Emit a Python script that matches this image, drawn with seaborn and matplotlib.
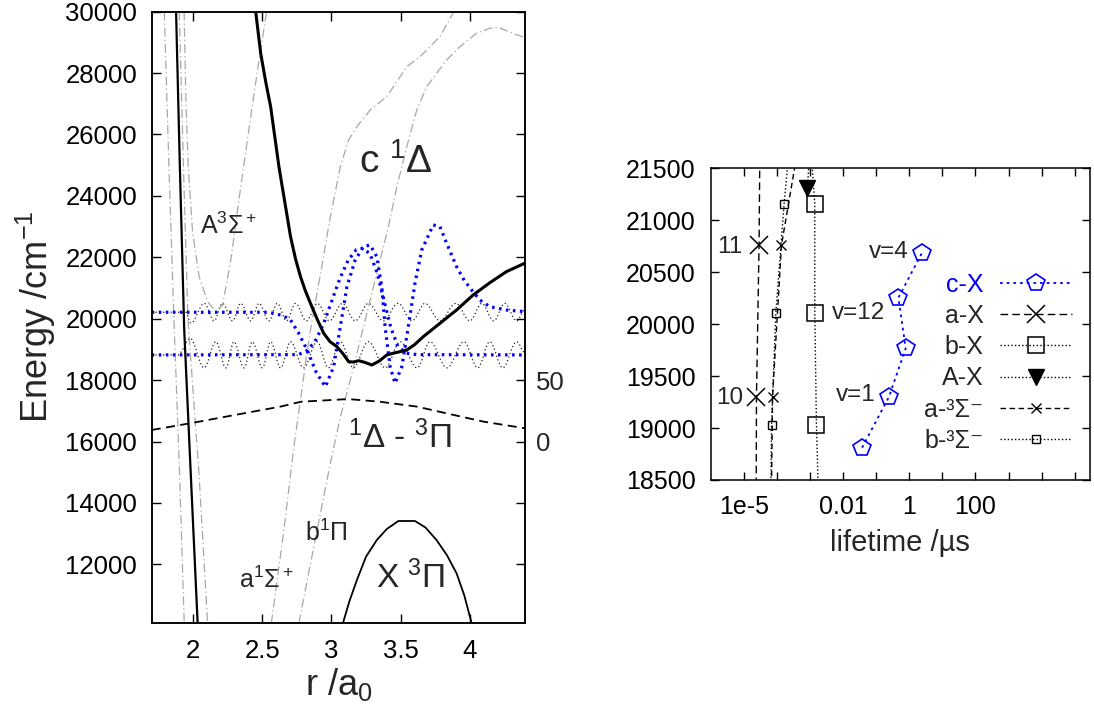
import numpy as np
import pandas as pd
import matplotlib
matplotlib.use("Agg")
import matplotlib.pyplot as plt
import seaborn as sns
from matplotlib.path import Path
from matplotlib.patches import PathPatch
from matplotlib.lines import Line2D

# ---------------- LEFT PANEL DATA (r in a0, energy in cm-1) ----------------
r_c1D = [2.452, 2.488, 2.525, 2.560, 2.620, 2.680, 2.704, 2.740, 2.776, 2.812, 2.848, 2.90,
         2.944, 2.99, 3.040, 3.085, 3.124, 3.160, 3.196, 3.24, 3.292, 3.345, 3.400, 3.45,
         3.497, 3.545, 3.60, 3.664, 3.785, 3.905, 4.025, 4.145, 4.265, 4.40]
E_c1D = [30000, 28645, 27700, 26906, 24952, 23323, 22672, 21950, 21369, 20900, 20502, 19950,
         19525, 19250, 19089, 18850, 18600, 18590, 18633, 18580, 18493, 18620, 18819, 18880,
         18927, 18982, 19150, 19415, 19851, 20284, 20773, 21170, 21532, 21810]

r_wall = [1.876, 1.904, 1.935, 1.983, 2.032]
E_wall = [30000, 24845, 19633, 14877, 10080]

r_X3P = [3.084, 3.13, 3.184, 3.25, 3.328, 3.40, 3.484, 3.604, 3.68, 3.76, 3.835, 3.905, 3.96, 4.013]
E_X3P = [10100, 10800, 11490, 12250, 12793, 13150, 13412, 13412, 13200, 12793, 12300, 11708, 11000, 10100]

r_coup = [1.70, 1.98, 2.30, 2.63, 2.78, 3.09, 3.14, 3.35, 3.62, 3.85, 4.10, 4.40]
v_coup = [9.4, 14.9, 21.6, 28.4, 32.4, 34.4, 34.4, 32.4, 28.4, 22.5, 16.2, 10.8]

r_G1 = [1.791, 1.825, 1.862, 1.902, 1.935]
E_G1 = [30000, 24845, 19800, 14877, 10080]
r_G2 = [1.899, 1.929, 1.962, 2.043, 2.104]
E_G2 = [30000, 25000, 19958, 14877, 10080]
r_A3S = [1.934, 1.947, 1.964, 1.996, 2.043, 2.104, 2.164, 2.212, 2.272, 2.344, 2.416, 2.476, 2.531]
E_A3S = [30000, 27124, 24952, 22782, 21369, 20555, 20229, 20447, 21913, 24300, 26580, 28427, 30000]
r_a1S = [2.565, 2.656, 2.728, 2.776, 2.812, 2.848, 2.93, 2.992, 3.064, 3.124, 3.184, 3.28, 3.40,
         3.545, 3.641, 3.785, 3.885]
E_a1S = [10080, 13119, 15832, 17353, 18548, 19633, 21700, 23323, 24952, 25820, 26255, 26797,
         27232, 28209, 28534, 29186, 30000]
r_b1P = [2.764, 2.896, 2.992, 3.064, 3.136, 3.208, 3.30, 3.412, 3.473, 3.545, 3.617, 3.689,
         3.833, 3.929, 4.049, 4.145, 4.205, 4.313, 4.40]
E_b1P = [10080, 13119, 15290, 16800, 18000, 19300, 20970, 23000, 24300, 25603, 26797, 27557,
         28427, 28860, 29296, 29459, 29492, 29296, 29150]

# c-state wavefunctions (blue)
r_wf_hi = [1.70, 2.55, 2.65, 2.704, 2.76, 2.824, 2.89, 2.956, 3.016, 3.064, 3.112, 3.172, 3.232,
           3.28, 3.328, 3.364, 3.388, 3.424, 3.46, 3.509, 3.556, 3.604, 3.653, 3.736, 3.785,
           3.833, 3.905, 3.96, 4.02, 4.073, 4.145, 4.265, 4.40]
E_wf_hi = [20210, 20210, 20100, 19959, 19550, 18982, 18250, 17786, 18438, 19741, 21044, 21913,
           22347, 22401, 22021, 21044, 19741, 18438, 17897, 18438, 19741, 21153, 22239, 23053,
           23000, 22457, 21695, 21250, 20900, 20610, 20392, 20284, 20230]
r_wf_lo = [1.70, 2.76, 2.82, 2.88, 2.94, 3.00, 3.06, 3.12, 3.18, 3.23, 3.28, 3.33, 3.38, 3.43,
           3.48, 3.54, 3.62, 4.40]
E_wf_lo = [18820, 18830, 18950, 19250, 19800, 20550, 21300, 21900, 22250, 22300, 22100, 21500,
           20600, 19700, 19100, 18880, 18830, 18820]

# X-state wavefunctions (black dotted): baseline + extrema
r_xwf_hi = [1.70, 1.947, 1.983, 2.080, 2.151, 2.212, 2.284, 2.344, 2.416, 2.476, 2.548, 2.608,
            2.675, 2.740, 2.819, 2.898, 2.985, 3.079, 3.173, 3.267, 3.375, 3.482, 3.583, 3.677,
            3.785, 3.900, 4.001, 4.087, 4.174, 4.253, 4.339, 4.40]
E_xwf_hi = [20210, 20210, 19860, 20500, 19930, 20500, 19930, 20500, 19930, 20500, 19930, 20500,
            19930, 20500, 19930, 20500, 19930, 20500, 19930, 20500, 19930, 20500, 19930, 20500,
            19930, 20500, 19930, 20500, 19930, 20500, 19930, 20300]
r_xwf_lo = [1.70, 1.89, 1.978, 2.079, 2.164, 2.236, 2.295, 2.367, 2.428, 2.500, 2.560, 2.632,
            2.704, 2.798, 2.896, 2.978, 3.064, 3.158, 3.267, 3.390, 3.497, 3.619, 3.713, 3.835,
            3.958, 4.058, 4.145, 4.239, 4.339, 4.40]
E_xwf_lo = [18820, 18820, 19360, 18400, 19250, 18400, 19250, 18400, 19250, 18400, 19250, 18400,
            19250, 18400, 19250, 18400, 19250, 18400, 19250, 18400, 19250, 18400, 19250, 18400,
            19250, 18400, 19250, 18400, 19250, 18900]

r_ticks = [2, 2.5, 3, 3.5, 4]
E_ticks = [12000, 14000, 16000, 18000, 20000, 22000, 24000, 26000, 28000, 30000]
coup_ticks = [0, 50]

# ---------------- RIGHT PANEL DATA (lifetime in microseconds) ----------------
cX_tau = [0.0375, 0.245, 0.78, 0.47, 2.39]
cX_E = [18811, 19302, 19767, 20255, 20682]
aX_tau = [2.42e-5, 2.9e-5]
aX_E = [19302, 20762]
aX_line_tau = [2.38e-5, 2.42e-5, 2.9e-5, 3.04e-5]
aX_line_E = [18450, 19302, 20762, 21550]
bX_tau = [1.57e-3, 1.4e-3, 1.4e-3]
bX_E = [19029, 20110, 21153]
bX_line_tau = [1.76e-3, 1.57e-3, 1.4e-3, 1.4e-3, 1.15e-3]
bX_line_E = [18450, 19029, 20110, 21153, 21550]
AX_tau = [8.4e-4]
AX_E = [21307]
AX_line_tau = [8.4e-4, 9.3e-4]
AX_line_E = [21307, 21550]
aS_tau = [7.4e-5, 1.38e-4]
aS_E = [19302, 20762]
aS_line_tau = [6.9e-5, 7.4e-5, 1.38e-4, 3.65e-4]
aS_line_E = [18450, 19302, 20762, 21550]
bS_tau = [6.9e-5, 9.3e-5, 1.65e-4]
bS_E = [19029, 20110, 21153]
bS_line_tau = [6.6e-5, 6.9e-5, 9.3e-5, 1.65e-4, 2.15e-4]
bS_line_E = [18450, 19029, 20110, 21153, 21550]

tau_ticks = [1e-5, 1e-4, 1e-3, 1e-2, 1e-1, 1, 10, 100, 1e3, 1e4, 1e5]
tau_ticklabels = ["1e-5", "", "", "0.01", "", "1", "", "100", "", "", ""]
Elt_ticks = [18500, 19000, 19500, 20000, 20500, 21000, 21500]
legend_labels = ["c-X", "a-X", "b-X", "A-X", "a-³Σ⁻", "b-³Σ⁻"]

# ---------------- STYLE ----------------
sns.set_theme(style="ticks")
plt.rcParams["font.family"] = ["Liberation Sans", "DejaVu Sans"]
plt.rcParams["mathtext.fontset"] = "custom"
plt.rcParams["mathtext.rm"] = "Liberation Sans"
plt.rcParams["mathtext.it"] = "Liberation Sans:italic"
plt.rcParams["mathtext.bf"] = "Liberation Sans:bold"
plt.rcParams["axes.linewidth"] = 1.1
plt.rcParams["axes.edgecolor"] = "black"

GRAY = "#a8a8a8"
DASHDOT = (0, (7, 2.5, 1, 2.5))
BLUE = "#0000ff"

fig = plt.figure(figsize=(10.94, 7.11), dpi=100)
ax = fig.add_axes([0.1387, 0.1242, 0.3412, 0.8594])
ax2 = ax.twinx()
ax2.set_position([0.1387, 0.1242, 0.3412, 0.8594])
axr = fig.add_axes([0.6496, 0.3249, 0.3467, 0.4384])


def curve(a, x, y, **kw):
    sns.lineplot(x=x, y=y, ax=a, sort=False, estimator=None, legend=False, **kw)


def smooth_wave(a, x, y, **kw):
    verts = [(x[0], y[0])]
    codes = [Path.MOVETO]
    for i in range(len(x) - 1):
        dx = x[i + 1] - x[i]
        verts += [(x[i] + 0.364 * dx, y[i]), (x[i + 1] - 0.364 * dx, y[i + 1]), (x[i + 1], y[i + 1])]
        codes += [Path.CURVE4] * 3
    a.add_patch(PathPatch(Path(verts, codes), fill=False, **kw))


# gray dash-dot potentials
for rr, ee in [(r_G1, E_G1), (r_G2, E_G2), (r_A3S, E_A3S), (r_a1S, E_a1S), (r_b1P, E_b1P)]:
    curve(ax, rr, ee, color=GRAY, linewidth=0.9, linestyle=DASHDOT)

# X-state wavefunctions
smooth_wave(ax, r_xwf_hi, E_xwf_hi, edgecolor="#222222", linewidth=0.9, linestyle=(0, (1, 2)))
smooth_wave(ax, r_xwf_lo, E_xwf_lo, edgecolor="#222222", linewidth=0.9, linestyle=(0, (1, 2)))

# c-state wavefunctions
curve(ax, r_wf_hi, E_wf_hi, color=BLUE, linewidth=2.3, linestyle=(0, (0.8, 1.4)))
curve(ax, r_wf_lo, E_wf_lo, color=BLUE, linewidth=2.3, linestyle=(0, (0.8, 1.4)))

# black potentials
curve(ax, r_wall, E_wall, color="black", linewidth=1.6)
curve(ax, r_X3P, E_X3P, color="black", linewidth=1.3)
curve(ax, r_c1D, E_c1D, color="black", linewidth=2.2)

# coupling on secondary axis
curve(ax2, r_coup, v_coup, color="black", linewidth=1.3, linestyle=(0, (5, 3)))

ax.set_xlim(1.7, 4.4)
ax.set_ylim(10100, 30000)
ax2.set_ylim((10100 - 16000) / 40, (30000 - 16000) / 40)
ax.set_xticks(r_ticks)
ax.set_xticklabels([f"{t:g}" for t in r_ticks])
ax.set_yticks(E_ticks)
ax.set_yticklabels([str(t) for t in E_ticks])
ax2.set_yticks(coup_ticks)
ax2.set_yticklabels([str(t) for t in coup_ticks])
ax.tick_params(axis="both", which="major", direction="in", length=6.5, width=1,
               top=True, right=True, labelright=False, labelsize=18.5, colors="black")
ax.tick_params(axis="y", pad=10.5)
ax.tick_params(axis="x", pad=12)
ax2.tick_params(axis="y", length=0, labelsize=18.5, pad=8)
ax.set_xlabel(r"r /a$_0$", fontsize=26, labelpad=2)
ax.set_ylabel(r"Energy /cm$^{-1}$", fontsize=26, labelpad=5)
ax2.set_ylabel("")
for s in ax.spines.values():
    s.set_visible(True)

# state labels
ax.text(3.466, 25100, r"c $^1\Delta$", fontsize=28, ha="center", va="center")
ax.text(2.259, 23030, r"A$^3\Sigma^+$", fontsize=18, ha="center", va="center")
ax.text(3.497, 16120, r"$^1\Delta$ - $^3\Pi$", fontsize=24, ha="center", va="center")
ax.text(2.961, 13040, r"b$^1\Pi$", fontsize=18, ha="center", va="center")
ax.text(2.53, 11500, r"a$^1\Sigma^+$", fontsize=18, ha="center", va="center")
ax.text(3.574, 11550, r"X $^3\Pi$", fontsize=24, ha="center", va="center")

# ---------------- RIGHT PANEL ----------------
axr.set_xscale("log")
axr.set_xlim(1e-6, 2.88e5)
axr.set_ylim(18500, 21500)

DASH_A = (0, (5.5, 3))
DOT = (0, (1, 1.6))
curve(axr, aX_line_tau, aX_line_E, color="black", linewidth=1.0, linestyle=DASH_A)
curve(axr, aS_line_tau, aS_line_E, color="black", linewidth=1.0, linestyle=(0, (4, 2.5)))
curve(axr, bS_line_tau, bS_line_E, color="black", linewidth=1.0, linestyle=DOT)
curve(axr, bX_line_tau, bX_line_E, color="black", linewidth=1.0, linestyle=DOT)
curve(axr, AX_line_tau, AX_line_E, color="black", linewidth=1.0, linestyle=DOT)
curve(axr, cX_tau, cX_E, color=BLUE, linewidth=1.3, linestyle=(0, (1.5, 2.2)))

mk = dict(linestyle="none", legend=False, sort=False, estimator=None)
sns.lineplot(x=aX_tau, y=aX_E, ax=axr, marker="x", markersize=13, markeredgewidth=1.1,
             markeredgecolor="black", color="black", **mk)
sns.lineplot(x=aS_tau, y=aS_E, ax=axr, marker="x", markersize=7, markeredgewidth=1.0,
             markeredgecolor="black", color="black", **mk)
sns.lineplot(x=bX_tau, y=bX_E, ax=axr, marker="s", markersize=11, markeredgewidth=1.1,
             markeredgecolor="black", markerfacecolor="none", color="black", **mk)
sns.lineplot(x=bS_tau, y=bS_E, ax=axr, marker="s", markersize=6, markeredgewidth=1.0,
             markeredgecolor="black", markerfacecolor="none", color="black", **mk)
sns.lineplot(x=AX_tau, y=AX_E, ax=axr, marker="v", markersize=11, markeredgewidth=1.0,
             markeredgecolor="black", markerfacecolor="black", color="black", **mk)
sns.lineplot(x=cX_tau, y=cX_E, ax=axr, marker="p", markersize=13, markeredgewidth=1.2,
             markeredgecolor=BLUE, markerfacecolor="none", color=BLUE, **mk)

axr.set_xticks(tau_ticks)
axr.set_xticklabels(tau_ticklabels)
axr.xaxis.set_minor_locator(matplotlib.ticker.NullLocator())
axr.set_yticks(Elt_ticks)
axr.set_yticklabels([str(t) for t in Elt_ticks])
axr.tick_params(axis="both", which="major", direction="in", length=5.5, width=1,
                top=True, right=True, labelsize=18, colors="black")
axr.tick_params(axis="y", pad=11)
axr.tick_params(axis="x", pad=11)
axr.set_xlabel("lifetime /µs", fontsize=21, labelpad=7)
axr.set_ylabel("")

# level labels
axr.text(3.78e-6, 20745, "11", fontsize=17.5, ha="center", va="center")
axr.text(3.78e-6, 19286, "10", fontsize=17.5, ha="center", va="center")
axr.text(0.249, 20690, "v=4", fontsize=17.5, ha="center", va="center")
axr.text(0.0284, 20104, "v=12", fontsize=17.5, ha="center", va="center")
axr.text(0.0239, 19318, "v=1", fontsize=17.5, ha="center", va="center")

handles = [
    Line2D([], [], color=BLUE, linewidth=1.3, linestyle=(0, (1.5, 2.2)), marker="p",
           markersize=13, markeredgewidth=1.2, markeredgecolor=BLUE, markerfacecolor="none"),
    Line2D([], [], color="black", linewidth=1.0, linestyle=DASH_A, marker="x",
           markersize=13, markeredgewidth=1.1),
    Line2D([], [], color="black", linewidth=1.0, linestyle=DOT, marker="s",
           markersize=11, markeredgewidth=1.1, markerfacecolor="none"),
    Line2D([], [], color="black", linewidth=1.0, linestyle=DOT, marker="v",
           markersize=11, markerfacecolor="black"),
    Line2D([], [], color="black", linewidth=1.0, linestyle=(0, (4, 2.5)), marker="x",
           markersize=7, markeredgewidth=1.0),
    Line2D([], [], color="black", linewidth=1.0, linestyle=DOT, marker="s",
           markersize=6, markeredgewidth=1.0, markerfacecolor="none"),
]
leg = axr.legend(handles, legend_labels, loc="upper right", bbox_to_anchor=(0.953, 0.665),
                 frameon=False, markerfirst=False, fontsize=18, handlelength=2.9,
                 handletextpad=0.65, labelspacing=0.29, borderpad=0, borderaxespad=0,
                 numpoints=1)
leg.get_texts()[0].set_color(BLUE)

fig.savefig("out.png", dpi=100)
